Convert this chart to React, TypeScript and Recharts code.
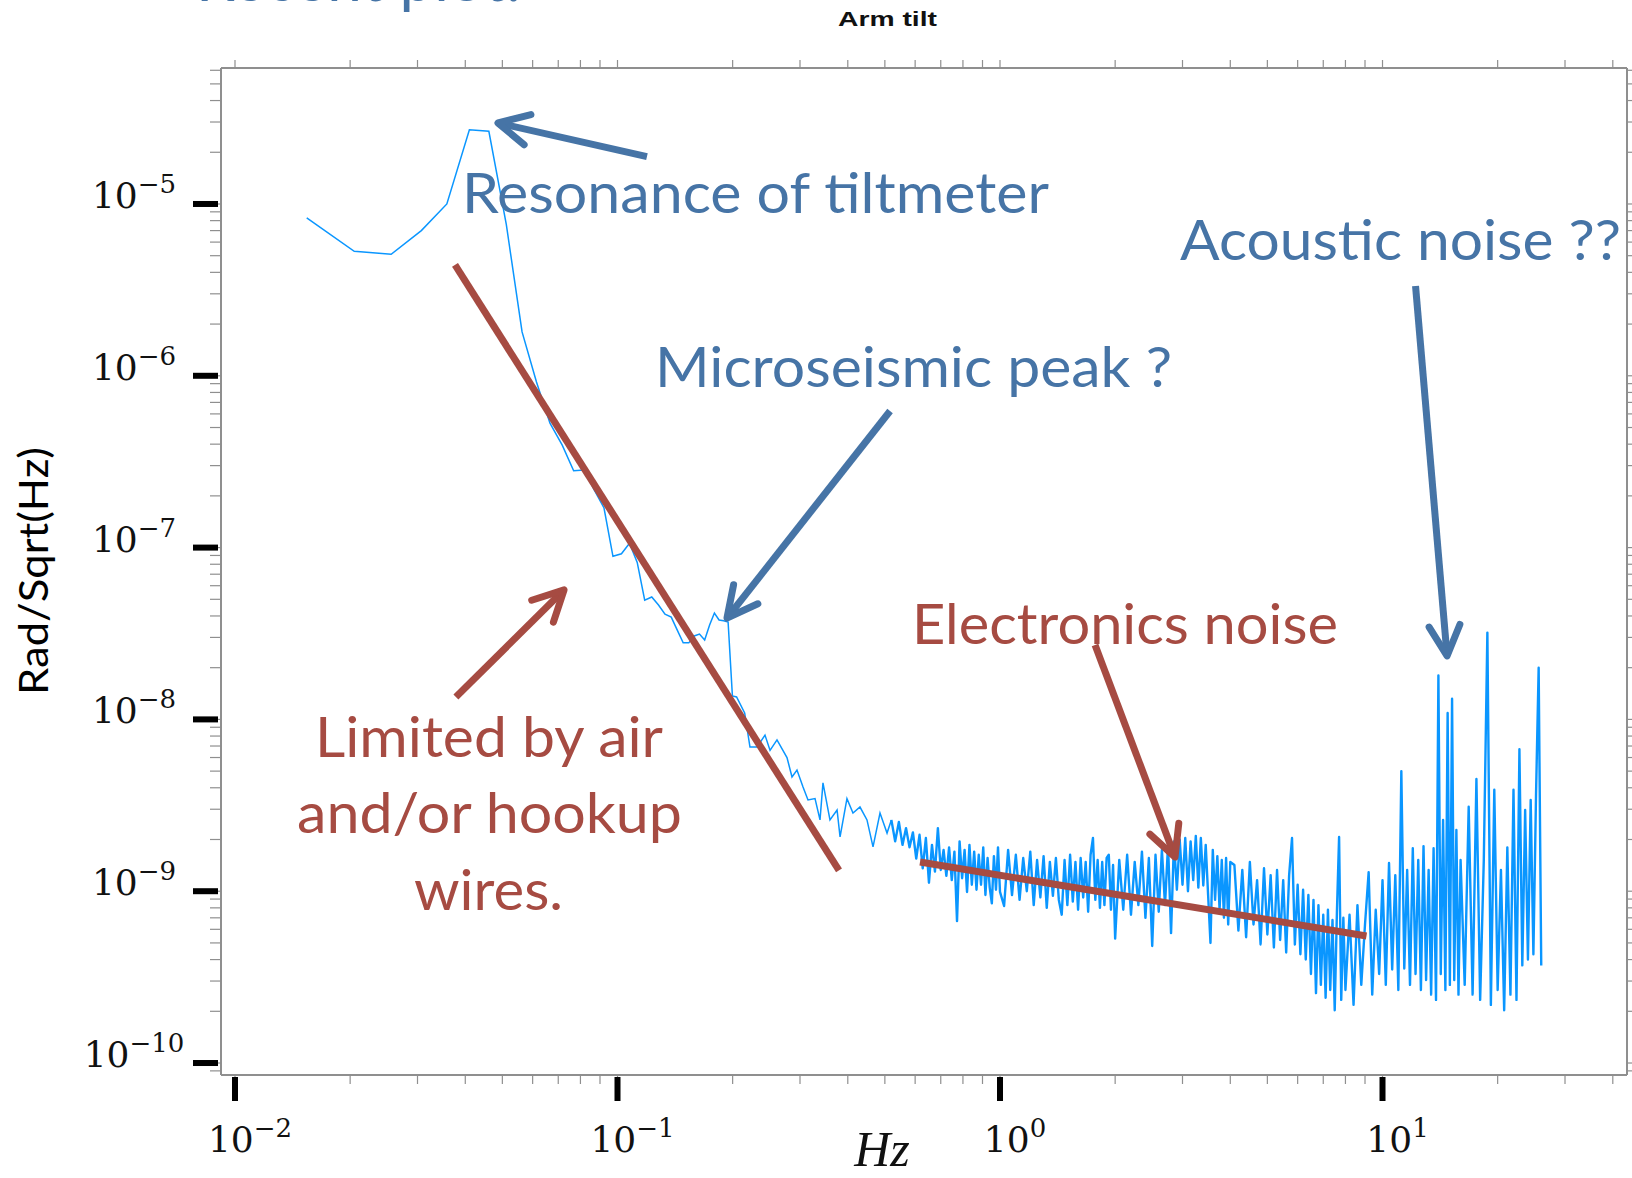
import React from 'react';
import { ComposedChart, Line, XAxis, YAxis, ReferenceLine } from 'recharts';

// Arm tilt spectrum (Hz, rad/sqrt(Hz))
const lowHz = [
  0.0154, 0.0205, 0.0256, 0.0307, 0.0358, 0.041, 0.0461, 0.0512, 0.0563, 0.0614,
  0.0666, 0.0717, 0.0768, 0.0819, 0.087, 0.0922, 0.0973, 0.1024, 0.1075, 0.1126,
  0.1178, 0.1229, 0.128, 0.1331, 0.1382, 0.1434, 0.1485, 0.1536, 0.1587, 0.1638,
  0.169, 0.1741, 0.1792, 0.1843, 0.1894, 0.1946, 0.1997, 0.2048,
  0.215, 0.222, 0.2316, 0.243, 0.2505, 0.2612, 0.2774, 0.2859, 0.2946, 0.3055,
  0.3148, 0.3284, 0.3384, 0.3445, 0.3593, 0.375, 0.3818, 0.398, 0.4127, 0.4305,
  0.449, 0.4656, 0.4856, 0.5066,
];
const lowAsd = [
  8.3e-6, 5.3e-6, 5.1e-6, 7.0e-6, 1.0e-5, 2.7e-5, 2.65e-5, 7.6e-6, 1.8e-6, 9.2e-7,
  5.3e-7, 3.95e-7, 2.8e-7, 2.83e-7, 2.16e-7, 1.7e-7, 8.9e-8, 9.2e-8, 1.06e-7, 8.2e-8,
  4.95e-8, 5.16e-8, 4.63e-8, 4.1e-8, 3.94e-8, 3.3e-8, 2.79e-8, 2.79e-8, 3.06e-8, 3.14e-8,
  2.9e-8, 3.54e-8, 4.16e-8, 3.79e-8, 3.75e-8, 3.69e-8, 1.37e-8, 1.35e-8,
  1.09e-8, 6.9e-9, 6.9e-9, 8.1e-9, 6.6e-9, 7.6e-9, 6.0e-9, 4.62e-9, 5.07e-9, 4.04e-9,
  3.4e-9, 3.46e-9, 2.6e-9, 4.27e-9, 2.6e-9, 2.97e-9, 2.07e-9, 3.46e-9, 2.85e-9, 3.09e-9,
  2.6e-9, 1.81e-9, 2.85e-9, 2.18e-9,
];

// the dense, noisy part above ~0.5 Hz
const noiseHz = [
  0.52, 0.532, 0.544, 0.556, 0.568, 0.58, 0.592, 0.604, 0.616, 0.628,
  0.64, 0.652, 0.664, 0.676, 0.688, 0.7, 0.712, 0.724, 0.736, 0.748,
  0.76, 0.772, 0.784, 0.796, 0.808, 0.82, 0.832, 0.844, 0.856, 0.868,
  0.88, 0.892, 0.904, 0.916, 0.928, 0.94, 0.952, 0.964, 0.976, 0.988, 1.0,
  1.025, 1.05, 1.075, 1.1, 1.125, 1.15, 1.175, 1.2, 1.225, 1.25,
  1.275, 1.3, 1.325, 1.35, 1.375, 1.4, 1.425, 1.45, 1.475, 1.5,
  1.525, 1.55, 1.575, 1.6, 1.625, 1.65, 1.675, 1.7, 1.725, 1.75,
  1.775, 1.8, 1.825, 1.85, 1.875, 1.9, 1.925, 1.95, 1.975, 2.0,
  2.05, 2.1, 2.15, 2.2, 2.25, 2.3, 2.35, 2.4, 2.45, 2.5,
  2.55, 2.6, 2.65, 2.7, 2.75, 2.8, 2.85, 2.9, 2.95, 3.0,
  3.05, 3.1, 3.15, 3.2, 3.25, 3.3, 3.35, 3.4, 3.45, 3.5,
  3.55, 3.6, 3.65, 3.7, 3.75, 3.8, 3.85, 3.9, 3.95, 4.0,
  4.1, 4.2, 4.3, 4.4, 4.5, 4.6, 4.7, 4.8, 4.9, 5.0,
  5.1, 5.2, 5.3, 5.4, 5.5, 5.6, 5.7, 5.8, 5.9, 6.0,
  6.1, 6.2, 6.3, 6.4, 6.5, 6.6, 6.7, 6.8, 6.9, 7.0,
  7.1, 7.2, 7.3, 7.4, 7.5, 7.6, 7.7, 7.8, 7.9, 8.0,
  8.2, 8.4, 8.6, 8.8, 9.0, 9.2, 9.4, 9.6, 9.8, 10.0,
  10.2, 10.4, 10.6, 10.8, 11.0, 11.2, 11.4, 11.6, 11.8, 12.0,
  12.2, 12.4, 12.6, 12.8, 13.0, 13.2, 13.4, 13.6, 13.8, 14.0,
  14.2, 14.4, 14.6, 14.8, 15.0, 15.2, 15.4, 15.6, 15.8, 16.0,
  16.4, 16.8, 17.2, 17.6, 18.0, 18.4, 18.8, 19.2, 19.6, 20.0,
  20.4, 20.8, 21.2, 21.6, 22.0, 22.4, 22.8, 23.2, 23.6, 24.0,
  24.4, 24.8, 25.2, 25.6, 26.0,
];
const noiseAsd = [
  2.6e-9, 1.95e-9, 2.53e-9, 1.86e-9, 2.33e-9, 1.8e-9, 2.2e-9, 1.55e-9, 2.13e-9, 1.36e-9,
  2.04e-9, 1.12e-9, 1.86e-9, 1.3e-9, 2.33e-9, 1.33e-9, 1.74e-9, 1.23e-9, 1.8e-9, 1.16e-9,
  1.7e-9, 6.7e-10, 1.95e-9, 1.19e-9, 1.74e-9, 9.9e-10, 1.86e-9, 1.09e-9, 1.7e-9, 1.02e-9,
  1.63e-9, 1.09e-9, 1.8e-9, 9.5e-10, 1.56e-9, 1.05e-9, 8.5e-10, 1.6e-9, 1.02e-9, 1.8e-9, 9.9e-10,
  8.2e-10, 1.74e-9, 9.5e-10, 1.63e-9, 8.9e-10, 1.56e-9, 1.0e-9, 1.7e-9, 8.3e-10, 1.52e-9,
  9.2e-10, 1.6e-9, 8.0e-10, 1.48e-9, 9.4e-10, 1.56e-9, 8.9e-10, 7.3e-10, 1.52e-9, 8.3e-10,
  1.63e-9, 8.7e-10, 1.48e-9, 7.8e-10, 1.56e-9, 9.2e-10, 1.48e-9, 7.6e-10, 1.63e-9, 2.04e-9,
  8.9e-10, 1.52e-9, 8.0e-10, 1.48e-9, 8.3e-10, 1.56e-9, 1.63e-9, 7.8e-10, 1.42e-9, 5.3e-10,
  1.52e-9, 7.8e-10, 1.63e-9, 7.3e-10, 1.48e-9, 8.3e-10, 1.7e-9, 7.0e-10, 1.56e-9, 4.8e-10,
  1.63e-9, 7.6e-10, 1.74e-9, 8.3e-10, 1.86e-9, 5.7e-10, 1.95e-9, 1.02e-9, 2.0e-9, 1.09e-9,
  2.04e-9, 1.0e-9, 1.95e-9, 1.16e-9, 2.1e-9, 1.05e-9, 2.04e-9, 1.08e-9, 1.86e-9, 9.5e-10,
  5.0e-10, 1.74e-9, 8.9e-10, 1.6e-9, 7.8e-10, 1.52e-9, 7.0e-10, 1.56e-9, 6.4e-10, 1.48e-9,
  1.42e-9, 5.9e-10, 1.33e-9, 5.4e-10, 1.48e-9, 6.4e-10, 1.16e-9, 4.9e-10, 1.36e-9, 5.6e-10,
  1.24e-9, 4.7e-10, 1.33e-9, 5.2e-10, 1.16e-9, 4.4e-10, 1.24e-9, 2.04e-9, 4.9e-10, 1.09e-9,
  4.3e-10, 1.02e-9, 4.0e-10, 9.5e-10, 3.3e-10, 8.9e-10, 2.55e-10, 8.3e-10, 2.85e-10, 7.3e-10,
  2.4e-10, 7.8e-10, 2.66e-10, 6.8e-10, 2.03e-10, 7.6e-10, 2.07e-9, 2.33e-10, 7.0e-10, 2.66e-10,
  7.3e-10, 2.18e-10, 8.3e-10, 2.85e-10, 6.4e-10, 1.29e-9, 2.5e-10, 7.8e-10, 3.3e-10, 1.16e-9,
  2.85e-10, 1.46e-9, 3.5e-10, 1.24e-9, 2.66e-10, 5.0e-9, 3.55e-10, 1.33e-9, 2.85e-10, 1.78e-9,
  3.3e-10, 1.52e-9, 2.66e-10, 1.83e-9, 3.04e-10, 1.33e-9, 2.5e-10, 1.78e-9, 2.33e-10, 1.8e-8,
  3.3e-10, 2.6e-9, 2.66e-10, 1.09e-8, 2.85e-10, 1.32e-8, 3.04e-10, 2.27e-9, 2.5e-10, 1.52e-9,
  2.85e-10, 3.1e-9, 2.5e-10, 4.5e-9, 2.33e-10, 1.52e-9, 3.2e-8, 2.18e-10, 3.9e-9, 2.66e-10,
  1.33e-9, 2.03e-10, 1.8e-9, 2.5e-10, 3.9e-9, 2.33e-10, 6.7e-9, 3.7e-10, 2.97e-9, 4.0e-10,
  3.4e-9, 4.3e-10, 3.7e-9, 2.0e-8, 3.7e-10,
];

// hand-drawn fits over the spectrum
const airFitHz = [0.0376, 0.3794];
const airFitAsd = [4.42e-6, 1.32e-9];
const elecFitHz = [0.6178, 9.08];
const elecFitAsd = [1.48e-9, 5.49e-10];

// annotation arrows, tail -> tip, in data units
const arrowTailHz = [0.1194, 0.5159, 12.2, 1.772, 0.0378];
const arrowTailAsd = [1.885e-5, 6.24e-7, 3.33e-6, 2.71e-8, 1.35e-8];
const arrowTipHz = [0.0487, 0.1933, 14.75, 2.868, 0.0725];
const arrowTipAsd = [2.96e-5, 3.89e-8, 2.34e-8, 1.58e-9, 5.67e-8];

const xMajor = [0.01, 0.1, 1, 10];
const xMinor = [
  0.02, 0.03, 0.04, 0.05, 0.06, 0.07, 0.08, 0.09,
  0.2, 0.3, 0.4, 0.5, 0.6, 0.7, 0.8, 0.9,
  2, 3, 4, 5, 6, 7, 8, 9, 20, 30, 40,
];
const yMajor = [1e-10, 1e-9, 1e-8, 1e-7, 1e-6, 1e-5];
const yMinor = [
  9e-11,
  2e-10, 3e-10, 4e-10, 5e-10, 6e-10, 7e-10, 8e-10, 9e-10,
  2e-9, 3e-9, 4e-9, 5e-9, 6e-9, 7e-9, 8e-9, 9e-9,
  2e-8, 3e-8, 4e-8, 5e-8, 6e-8, 7e-8, 8e-8, 9e-8,
  2e-7, 3e-7, 4e-7, 5e-7, 6e-7, 7e-7, 8e-7, 9e-7,
  2e-6, 3e-6, 4e-6, 5e-6, 6e-6, 7e-6, 8e-6, 9e-6,
  2e-5, 3e-5, 4e-5, 5e-5, 6e-5,
];

const X_DOMAIN: [number, number] = [0.009192, 43.57];
const Y_DOMAIN: [number, number] = [8.516e-11, 6.187e-5];

const TRACE = '#0a96ff';
const BLUE = '#4674a6';
const RED = '#a64b42';
const FRAME = '#8f8f8f';

// low part also takes the first noisy point so the two pieces join
const lowTrace = [...lowHz, noiseHz[0]].map((f, i) => ({ f, v: [...lowAsd, noiseAsd[0]][i] }));
const noiseTrace = noiseHz.map((f, i) => ({ f, v: noiseAsd[i] }));
const airFit = airFitHz.map((f, i) => ({ f, v: airFitAsd[i] }));
const elecFit = elecFitHz.map((f, i) => ({ f, v: elecFitAsd[i] }));
const arrowColors = [BLUE, BLUE, BLUE, RED, RED];

const xTicks = [...xMajor, ...xMinor].sort((a, b) => a - b);
const yTicks = [...yMajor, ...yMinor].sort((a, b) => a - b);

const expLabel = (v: number) => {
  const e = Math.round(Math.log10(v));
  return e < 0 ? `\u2212${-e}` : `${e}`;
};

function BottomTick(props: any) {
  const { x, y, payload } = props;
  const minor = <line x1={x} x2={x} y1={y} y2={y + 9} stroke={FRAME} strokeWidth={1.2} />;
  if (!xMajor.includes(payload.value)) return minor;
  return (
    <g>
      {minor}
      <rect x={x - 3} y={y + 2} width={6} height={24} fill="#000" />
      <text x={x + 15} y={y + 77} textAnchor="middle" fontFamily="DejaVu Serif" fontSize={36} fill="#111">
        10<tspan dy={-15} fontSize={26}>{expLabel(payload.value)}</tspan>
      </text>
    </g>
  );
}

function TopTick(props: any) {
  const { x, y } = props;
  return <line x1={x} x2={x} y1={y - 8} y2={y} stroke={FRAME} strokeWidth={1.2} />;
}

function LeftTick(props: any) {
  const { x, y, payload } = props;
  const minor = <line x1={x - 11} x2={x} y1={y} y2={y} stroke={FRAME} strokeWidth={1.2} />;
  if (!yMajor.includes(payload.value)) return minor;
  return (
    <g>
      {minor}
      <rect x={x - 28} y={y - 3} width={25} height={6} fill="#000" />
      <text x={x - 87} y={y + 4} textAnchor="middle" fontFamily="DejaVu Serif" fontSize={36} fill="#111">
        10<tspan dy={-15} fontSize={26}>{expLabel(payload.value)}</tspan>
      </text>
    </g>
  );
}

function RightTick(props: any) {
  const { x, y } = props;
  return <line x1={x} x2={x + 6} y1={y} y2={y} stroke={FRAME} strokeWidth={1.2} />;
}

// shaft plus an open chevron at the tip end
const arrowShape = (color: string) => (p: any) => {
  const { x1, y1, x2, y2 } = p;
  const dx = x1 - x2;
  const dy = y1 - y2;
  const len = Math.hypot(dx, dy) || 1;
  const ux = dx / len;
  const uy = dy / len;
  const a = (27 * Math.PI) / 180;
  const L = 34;
  const wing = (s: number) => {
    const c = Math.cos(s * a);
    const sn = Math.sin(s * a);
    return `${x2 + L * (ux * c - uy * sn)},${y2 + L * (ux * sn + uy * c)}`;
  };
  return (
    <g>
      <line x1={x1} y1={y1} x2={x2 + ux * 2} y2={y2 + uy * 2} stroke={color} strokeWidth={7} />
      <polyline
        points={`${wing(1)} ${x2},${y2} ${wing(-1)}`}
        fill="none"
        stroke={color}
        strokeWidth={7}
        strokeLinecap="round"
        strokeLinejoin="round"
      />
    </g>
  );
};

const notes = [
  { text: 'Resonance of tiltmeter', x: 462, y: 213, w: 587, color: BLUE },
  { text: 'Microseismic peak ?', x: 655, y: 387, w: 517, color: BLUE },
  { text: 'Acoustic noise ??', x: 1180, y: 260, w: 441, color: BLUE },
  { text: 'Electronics noise', x: 912, y: 644, w: 426, color: RED },
  { text: 'Limited by air', x: 315, y: 757, w: 348, color: RED },
  { text: 'and/or hookup', x: 297, y: 833, w: 385, color: RED },
  { text: 'wires.', x: 414, y: 910, w: 149, color: RED },
];

export default function App() {
  return (
    <div style={{ position: 'absolute', left: 0, top: 0, width: 1632, height: 1178, background: '#fff' }}>
      <ComposedChart width={1632} height={1178} margin={{ top: 0, right: 0, bottom: 0, left: 0 }}>
        <XAxis
          xAxisId="b"
          dataKey="f"
          type="number"
          scale="log"
          domain={X_DOMAIN}
          allowDataOverflow
          ticks={xTicks}
          interval={0}
          tick={BottomTick}
          tickLine={false}
          tickSize={0}
          tickMargin={0}
          height={103}
          axisLine={{ stroke: FRAME, strokeWidth: 2 }}
        />
        <XAxis
          xAxisId="t"
          orientation="top"
          dataKey="f"
          type="number"
          scale="log"
          domain={X_DOMAIN}
          allowDataOverflow
          ticks={xTicks}
          interval={0}
          tick={TopTick}
          tickLine={false}
          tickSize={0}
          tickMargin={0}
          height={68}
          axisLine={{ stroke: FRAME, strokeWidth: 2 }}
        />
        <YAxis
          yAxisId="l"
          type="number"
          scale="log"
          domain={Y_DOMAIN}
          allowDataOverflow
          ticks={yTicks}
          interval={0}
          tick={LeftTick}
          tickLine={false}
          tickSize={0}
          tickMargin={0}
          width={221}
          axisLine={{ stroke: FRAME, strokeWidth: 2 }}
        />
        <YAxis
          yAxisId="r"
          orientation="right"
          type="number"
          scale="log"
          domain={Y_DOMAIN}
          allowDataOverflow
          ticks={yTicks}
          interval={0}
          tick={RightTick}
          tickLine={false}
          tickSize={0}
          tickMargin={0}
          width={5}
          axisLine={{ stroke: FRAME, strokeWidth: 2 }}
        />

        <Line
          xAxisId="b"
          yAxisId="l"
          data={lowTrace}
          dataKey="v"
          type="linear"
          stroke={TRACE}
          strokeWidth={1.5}
          dot={false}
          isAnimationActive={false}
        />
        <Line
          xAxisId="b"
          yAxisId="l"
          data={noiseTrace}
          dataKey="v"
          type="linear"
          stroke={TRACE}
          strokeWidth={2.4}
          strokeLinejoin="round"
          dot={false}
          isAnimationActive={false}
        />
        <Line
          xAxisId="b"
          yAxisId="l"
          data={airFit}
          dataKey="v"
          type="linear"
          stroke={RED}
          strokeWidth={7}
          dot={false}
          isAnimationActive={false}
        />
        <Line
          xAxisId="b"
          yAxisId="l"
          data={elecFit}
          dataKey="v"
          type="linear"
          stroke={RED}
          strokeWidth={7}
          dot={false}
          isAnimationActive={false}
        />

        {arrowTailHz.map((f, i) => (
          <ReferenceLine
            key={i}
            xAxisId="b"
            yAxisId="l"
            segment={[
              { x: f, y: arrowTailAsd[i] },
              { x: arrowTipHz[i], y: arrowTipAsd[i] },
            ]}
            ifOverflow="visible"
            shape={arrowShape(arrowColors[i])}
          />
        ))}
      </ComposedChart>

      <svg
        width={1632}
        height={1178}
        style={{ position: 'absolute', left: 0, top: 0, pointerEvents: 'none' }}
      >
        <text x={196} y={1} fontFamily="Lato" fontSize={62} fill={BLUE}>
          Recent plot:
        </text>
        <text
          x={838}
          y={26}
          fontFamily="Liberation Sans"
          fontWeight="bold"
          fontSize={21}
          fill="#111"
          textLength={99}
          lengthAdjust="spacingAndGlyphs"
        >
          Arm tilt
        </text>
        <text
          transform="translate(48,571) rotate(-90)"
          textAnchor="middle"
          fontFamily="Lato"
          fontSize={40}
          fill="#000"
          textLength={248}
          lengthAdjust="spacingAndGlyphs"
        >
          Rad/Sqrt(Hz)
        </text>
        <text x={882} y={1166} textAnchor="middle" fontFamily="Liberation Serif" fontStyle="italic" fontSize={50} fill="#111">
          Hz
        </text>
        {notes.map((n) => (
          <text
            key={n.text}
            x={n.x}
            y={n.y}
            fontFamily="Lato"
            fontSize={56}
            fill={n.color}
            textLength={n.w}
            lengthAdjust="spacingAndGlyphs"
          >
            {n.text}
          </text>
        ))}
      </svg>
    </div>
  );
}
